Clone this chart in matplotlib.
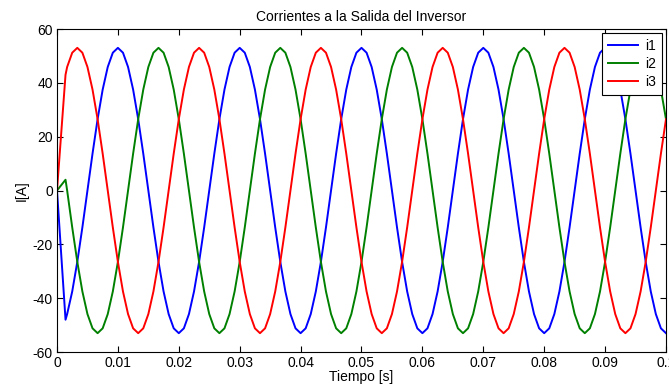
import numpy as np
import matplotlib
matplotlib.use('Agg')
import matplotlib.pyplot as plt

plt.rcParams['font.family'] = ['Liberation Sans', 'DejaVu Sans']
plt.rcParams['axes.unicode_minus'] = False

# sample times: start transient, then every 1/1200 s
t = np.concatenate([[0.0, 0.0014], np.arange(2, 121) / 1200.0])

# values (amplitude ~53 A, 50 Hz)
i1 = [0, -48,
      -45.9, -37.5, -26.5, -13.7, 0, 13.7, 26.5, 37.5, 45.9, 51.2,
      53, 51.2, 45.9, 37.5, 26.5, 13.7, 0, -13.7, -26.5, -37.5, -45.9, -51.2,
      -53, -51.2, -45.9, -37.5, -26.5, -13.7, 0, 13.7, 26.5, 37.5, 45.9, 51.2,
      53, 51.2, 45.9, 37.5, 26.5, 13.7, 0, -13.7, -26.5, -37.5, -45.9, -51.2,
      -53, -51.2, -45.9, -37.5, -26.5, -13.7, 0, 13.7, 26.5, 37.5, 45.9, 51.2,
      53, 51.2, 45.9, 37.5, 26.5, 13.7, 0, -13.7, -26.5, -37.5, -45.9, -51.2,
      -53, -51.2, -45.9, -37.5, -26.5, -13.7, 0, 13.7, 26.5, 37.5, 45.9, 51.2,
      53, 51.2, 45.9, 37.5, 26.5, 13.7, 0, -13.7, -26.5, -37.5, -45.9, -51.2,
      -53, -51.2, -45.9, -37.5, -26.5, -13.7, 0, 13.7, 26.5, 37.5, 45.9, 51.2,
      53, 51.2, 45.9, 37.5, 26.5, 13.7, 0, -13.7, -26.5, -37.5, -45.9, -51.2,
      -53]

i2 = [0, 4,
      0, -13.7, -26.5, -37.5, -45.9, -51.2, -53, -51.2, -45.9, -37.5,
      -26.5, -13.7, 0, 13.7, 26.5, 37.5, 45.9, 51.2, 53, 51.2, 45.9, 37.5,
      26.5, 13.7, 0, -13.7, -26.5, -37.5, -45.9, -51.2, -53, -51.2, -45.9, -37.5,
      -26.5, -13.7, 0, 13.7, 26.5, 37.5, 45.9, 51.2, 53, 51.2, 45.9, 37.5,
      26.5, 13.7, 0, -13.7, -26.5, -37.5, -45.9, -51.2, -53, -51.2, -45.9, -37.5,
      -26.5, -13.7, 0, 13.7, 26.5, 37.5, 45.9, 51.2, 53, 51.2, 45.9, 37.5,
      26.5, 13.7, 0, -13.7, -26.5, -37.5, -45.9, -51.2, -53, -51.2, -45.9, -37.5,
      -26.5, -13.7, 0, 13.7, 26.5, 37.5, 45.9, 51.2, 53, 51.2, 45.9, 37.5,
      26.5, 13.7, 0, -13.7, -26.5, -37.5, -45.9, -51.2, -53, -51.2, -45.9, -37.5,
      -26.5, -13.7, 0, 13.7, 26.5, 37.5, 45.9, 51.2, 53, 51.2, 45.9, 37.5,
      26.5]

i3 = [0, 43,
      45.9, 51.2, 53, 51.2, 45.9, 37.5, 26.5, 13.7, 0, -13.7,
      -26.5, -37.5, -45.9, -51.2, -53, -51.2, -45.9, -37.5, -26.5, -13.7, 0, 13.7,
      26.5, 37.5, 45.9, 51.2, 53, 51.2, 45.9, 37.5, 26.5, 13.7, 0, -13.7,
      -26.5, -37.5, -45.9, -51.2, -53, -51.2, -45.9, -37.5, -26.5, -13.7, 0, 13.7,
      26.5, 37.5, 45.9, 51.2, 53, 51.2, 45.9, 37.5, 26.5, 13.7, 0, -13.7,
      -26.5, -37.5, -45.9, -51.2, -53, -51.2, -45.9, -37.5, -26.5, -13.7, 0, 13.7,
      26.5, 37.5, 45.9, 51.2, 53, 51.2, 45.9, 37.5, 26.5, 13.7, 0, -13.7,
      -26.5, -37.5, -45.9, -51.2, -53, -51.2, -45.9, -37.5, -26.5, -13.7, 0, 13.7,
      26.5, 37.5, 45.9, 51.2, 53, 51.2, 45.9, 37.5, 26.5, 13.7, 0, -13.7,
      -26.5, -37.5, -45.9, -51.2, -53, -51.2, -45.9, -37.5, -26.5, -13.7, 0, 13.7,
      26.5]

xticks = [0, 0.01, 0.02, 0.03, 0.04, 0.05, 0.06, 0.07, 0.08, 0.09, 0.1]
xticklabels = ['0', '0.01', '0.02', '0.03', '0.04', '0.05', '0.06', '0.07', '0.08', '0.09', '0.1']
yticks = [-60, -40, -20, 0, 20, 40, 60]

fig = plt.figure(figsize=(6.69, 3.91), dpi=100)
ax = fig.add_axes([0.0852, 0.0997, 0.9103, 0.8261])

ax.plot(t, i1, color=(0, 0, 1), lw=1.4, label='i1')
ax.plot(t, i2, color=(0, 0.5, 0), lw=1.4, label='i2')
ax.plot(t, i3, color=(1, 0, 0), lw=1.4, label='i3')

ax.set_xlim(0, 0.1)
ax.set_ylim(-60, 60)
ax.set_xticks(xticks)
ax.set_xticklabels(xticklabels)
ax.set_yticks(yticks)
ax.tick_params(direction='in', top=True, right=True, length=4, labelsize=10, pad=3)
for s in ax.spines.values():
    s.set_linewidth(0.8)

ax.set_title('Corrientes a la Salida del Inversor', fontsize=10, pad=6)
ax.set_xlabel('Tiempo [s]', fontsize=10, labelpad=0)
ax.set_ylabel('I[A]', fontsize=10, labelpad=3)

leg = ax.legend(loc='upper right', fontsize=10, fancybox=False, framealpha=1,
                edgecolor='black', borderaxespad=0.3, handlelength=2.2,
                handletextpad=0.5, labelspacing=0.3, borderpad=0.4)
leg.get_frame().set_linewidth(0.8)

fig.savefig('out.png', dpi=100)
